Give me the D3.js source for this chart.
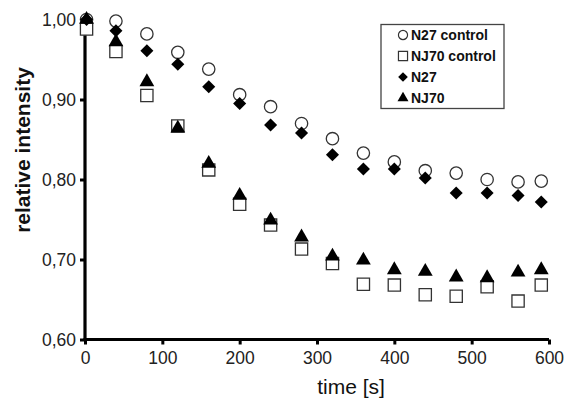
<!DOCTYPE html>
<html><head><meta charset="utf-8">
<script src="https://cdn.jsdelivr.net/npm/d3@7"></script>
<style>body{margin:0;background:#fff}svg{display:block}</style>
</head><body>
<script>
const times = [2, 40, 80, 120, 160, 200, 240, 280, 320, 360, 400, 440, 480, 520, 560, 590];
const n27control = [1.000, 0.998, 0.982, 0.959, 0.938, 0.906, 0.891, 0.870, 0.851, 0.833, 0.822, 0.811, 0.808, 0.800, 0.797, 0.798];
const nj70control = [0.988, 0.960, 0.905, 0.867, 0.812, 0.769, 0.743, 0.713, 0.695, 0.669, 0.668, 0.656, 0.654, 0.666, 0.648, 0.668];
const n27 = [1.000, 0.986, 0.961, 0.944, 0.916, 0.895, 0.868, 0.858, 0.831, 0.813, 0.813, 0.802, 0.783, 0.783, 0.780, 0.772];
const nj70 = [1.000, 0.972, 0.922, 0.864, 0.820, 0.780, 0.749, 0.728, 0.704, 0.699, 0.687, 0.685, 0.678, 0.677, 0.684, 0.687];
const xTicks = [0, 100, 200, 300, 400, 500, 600];
const yTicks = [0.60, 0.70, 0.80, 0.90, 1.00];
const seriesNames = ["N27 control", "NJ70 control", "N27", "NJ70"];

const W = 581, H = 398;
const svg = d3.select("body").append("svg").attr("width", W).attr("height", H);
const x = d3.scaleLinear().domain([0, 600]).range([85, 549]);
const y = d3.scaleLinear().domain([0.6, 1.0]).range([339.5, 19.5]);

const font = "Liberation Sans, Arial, Helvetica, sans-serif";

// axes
const xAxis = svg.append("g").attr("transform", `translate(0,${y(0.6)})`)
  .call(d3.axisBottom(x).tickValues(xTicks).tickSize(5).tickSizeOuter(0).tickPadding(7).tickFormat(d3.format("d")));
const yAxis = svg.append("g").attr("transform", `translate(${x(0)},0)`)
  .call(d3.axisLeft(y).tickValues(yTicks).tickSize(5).tickSizeOuter(0).tickPadding(4)
    .tickFormat(d => d3.format(".2f")(d).replace(".", ",")));
[xAxis, yAxis].forEach(g => {
  g.select(".domain").attr("stroke", "#000").attr("stroke-width", 3.2);
  g.selectAll(".tick line").attr("stroke", "#000").attr("stroke-width", 3);
  g.selectAll("text").attr("font-family", font).attr("font-size", 17.5).attr("fill", "#222");
});
xAxis.select(".domain").attr("d", `M${x(0)-1.5},0H${x(600)}`);
yAxis.select(".domain").attr("d", `M0,${y(0.6)}V${y(1.0)-3}`);

// titles
svg.append("text").attr("x", 351).attr("y", 394).attr("text-anchor", "middle")
  .attr("font-family", font).attr("font-size", 21).attr("fill", "#111").text("time [s]");
svg.append("text").attr("transform", `translate(29.5,150) rotate(-90)`).attr("text-anchor", "middle")
  .attr("font-family", font).attr("font-size", 21).attr("font-weight", "bold").attr("fill", "#111").text("relative intensity");

// symbols
const diamond = {
  draw(ctx, size) {
    const r = Math.sqrt(size / 2);
    ctx.moveTo(0, -r); ctx.lineTo(r, 0); ctx.lineTo(0, r); ctx.lineTo(-r, 0); ctx.closePath();
  }
};
const sym = {
  "N27 control": {type: d3.symbolCircle, size: 120, fill: "#fff", stroke: "#333"},
  "NJ70 control": {type: d3.symbolSquare, size: 150, fill: "#fff", stroke: "#333"},
  "N27": {type: diamond, size: 85, fill: "#000", stroke: "none"},
  "NJ70": {type: d3.symbolTriangle, size: 95, fill: "#000", stroke: "none"}
};
const data = {"N27 control": n27control, "NJ70 control": nj70control, "N27": n27, "NJ70": nj70};
const drawOrder = ["N27 control", "NJ70 control", "N27", "NJ70"];
drawOrder.forEach(name => {
  const s = sym[name];
  svg.append("g").selectAll("path").data(times.map((t, i) => [t, data[name][i]]))
    .join("path")
    .attr("transform", d => `translate(${x(d[0])},${y(d[1])})`)
    .attr("d", d3.symbol().type(s.type).size(s.size)())
    .attr("fill", s.fill).attr("stroke", s.stroke).attr("stroke-width", 1.3);
});

// legend
const lg = svg.append("g");
lg.append("rect").attr("x", 381).attr("y", 24.5).attr("width", 123).attr("height", 84)
  .attr("fill", "#fff").attr("stroke", "#444").attr("stroke-width", 1.3);
const ly = d3.scalePoint().domain(seriesNames).range([35, 98]);
seriesNames.forEach(name => {
  const s = sym[name];
  lg.append("path").attr("transform", `translate(403,${ly(name)})`)
    .attr("d", d3.symbol().type(s.type).size(s.size * 0.55)())
    .attr("fill", s.fill).attr("stroke", s.stroke).attr("stroke-width", 1.2);
  lg.append("text").attr("x", 411).attr("y", ly(name)).attr("dy", "0.36em")
    .attr("font-family", font).attr("font-size", 14).attr("font-weight", "bold").attr("fill", "#111").text(name);
});
</script>
</body></html>
